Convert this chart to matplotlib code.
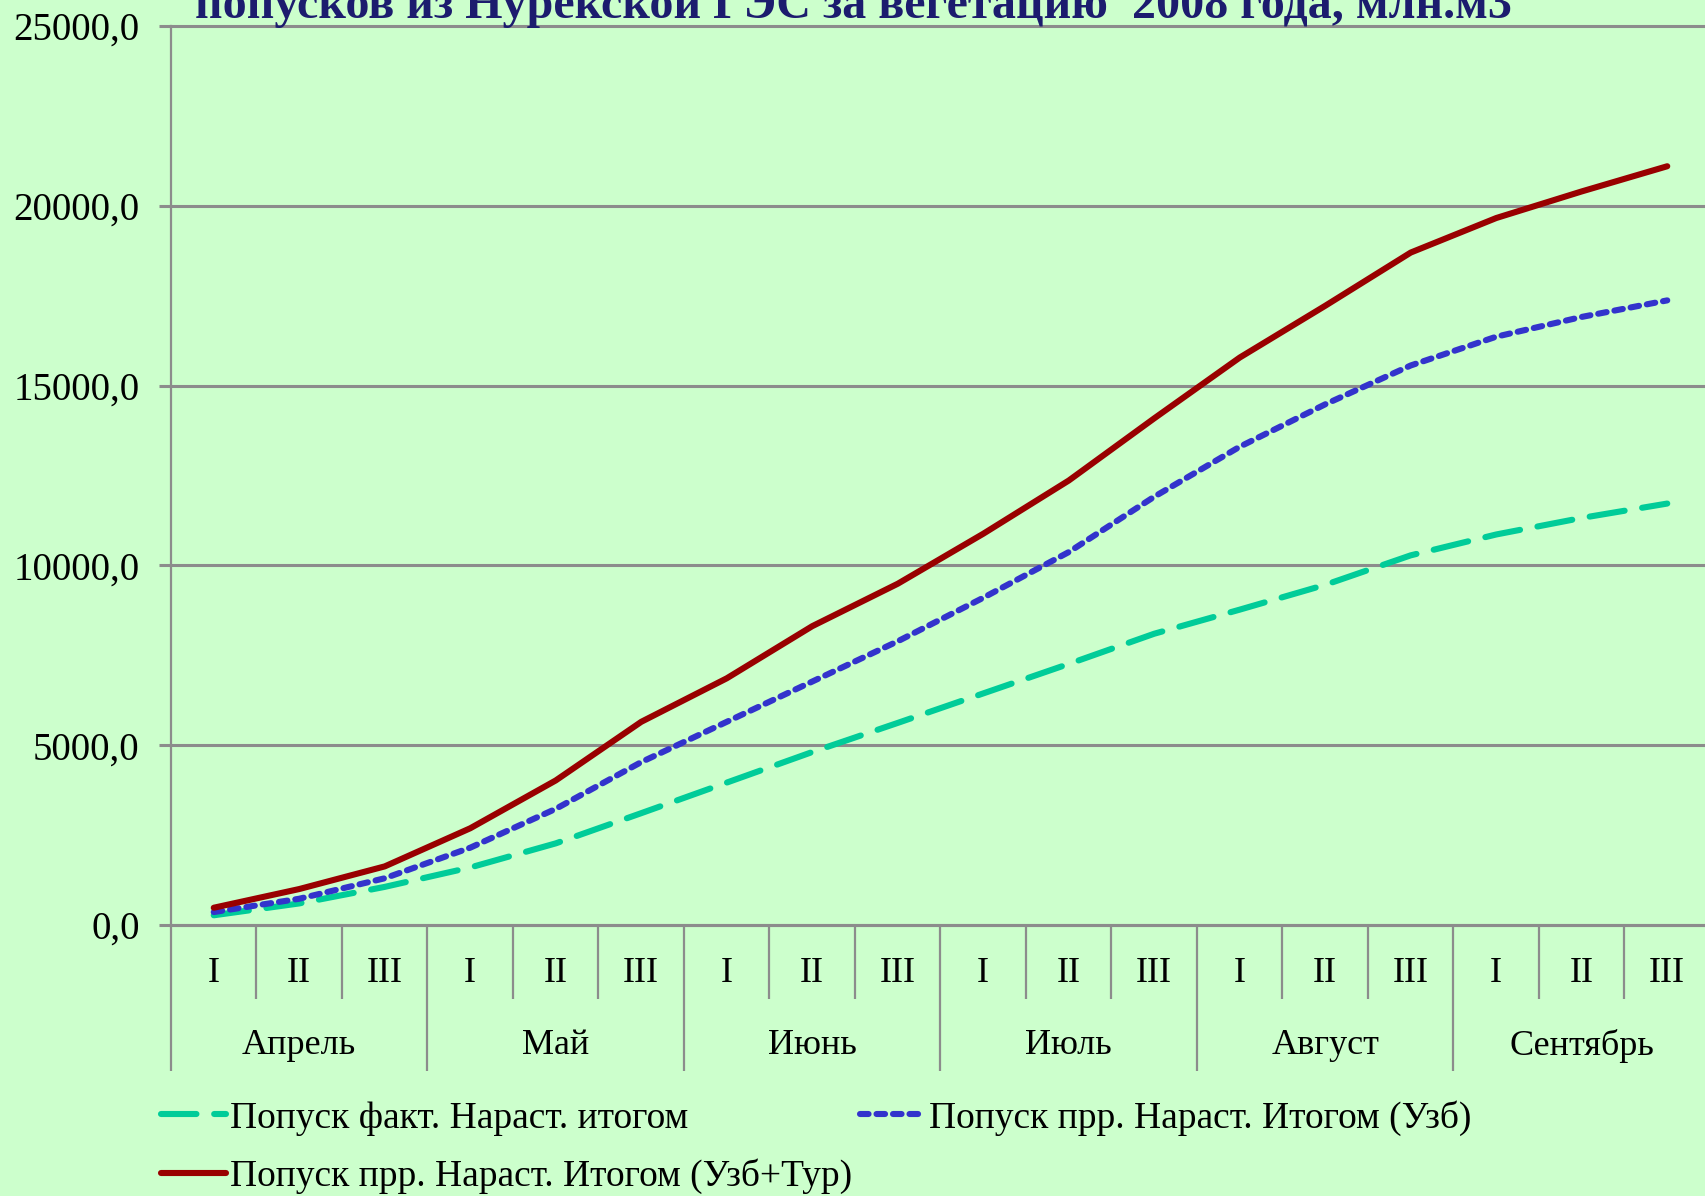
import matplotlib
matplotlib.use("Agg")
import matplotlib.pyplot as plt
from matplotlib.lines import Line2D
from matplotlib.ticker import FuncFormatter, FixedLocator

# ---------------- data ----------------
months = ["Апрель", "Май", "Июнь", "Июль", "Август", "Сентябрь"]
decades = ["I", "II", "III"]

fact_cum = [270, 600, 1060, 1600, 2270, 3110, 3960, 4810, 5620, 6440, 7260, 8100,
            8770, 9460, 10280, 10860, 11320, 11720]
plan_uzb = [360, 730, 1300, 2150, 3230, 4530, 5650, 6770, 7890, 9100, 10370, 11910,
            13300, 14480, 15560, 16360, 16910, 17370]
plan_uzb_tur = [480, 1000, 1630, 2690, 4020, 5650, 6860, 8310, 9490, 10880, 12360, 14090,
                15780, 17220, 18700, 19660, 20400, 21100]

series_labels = ["Попуск факт. Нараст. итогом",
                 "Попуск прр. Нараст. Итогом (Узб+Тур)",
                 "Попуск прр. Нараст. Итогом (Узб)"]
title_text = "попусков из Нурекской ГЭС за вегетацию  2008 года, млн.м3"
y_ticks = [0, 5000, 10000, 15000, 20000, 25000]

# ---------------- style ----------------
W, H = 1706, 1196
BG = "#CCFFCC"
GRID = "#8C8C8C"
SERIF = ["Liberation Serif", "DejaVu Serif"]
LW = 4.4
GREEN_LS = (0, (5.8, 2.9))
BLUE_LS = (0, (1.4, 1.3))

fig = plt.figure(figsize=(W / 100, H / 100), dpi=100)
fig.patch.set_facecolor(BG)

ax_left, ax_right, ax_top, ax_bot = 171, 1710, 26, 925
ax = fig.add_axes([ax_left / W, 1 - ax_bot / H, (ax_right - ax_left) / W, (ax_bot - ax_top) / H])
ax.set_facecolor(BG)

n = len(fact_cum)
xs = [i + 0.5 for i in range(n)]

ax.plot(xs, fact_cum, color="#00CC99", lw=LW, linestyle=GREEN_LS,
        dash_capstyle="round", solid_capstyle="round", zorder=3)
ax.plot(xs, plan_uzb, color="#3333CC", lw=LW, linestyle=BLUE_LS,
        dash_capstyle="round", zorder=4)
ax.plot(xs, plan_uzb_tur, color="#990000", lw=LW, solid_capstyle="round",
        solid_joinstyle="round", zorder=5)

ax.set_xlim(0, n)
ax.set_ylim(0, 25000)

# y axis
ax.yaxis.set_major_locator(FixedLocator(y_ticks))
ax.yaxis.set_major_formatter(FuncFormatter(lambda v, p: f"{v:.1f}".replace(".", ",")))
ax.tick_params(axis="y", direction="out", length=8.6, width=2.2, color=GRID, pad=14,
               labelsize=28)
for lab in ax.get_yticklabels():
    lab.set_family(SERIF)
ax.yaxis.grid(True, color=GRID, lw=2.2)
for gl in ax.get_ygridlines():
    gl.set_clip_on(False)
ax.set_axisbelow(True)

# x axis: category boundaries
ax.xaxis.set_major_locator(FixedLocator(list(range(0, n + 1, 3))))
ax.xaxis.set_minor_locator(FixedLocator([i for i in range(n + 1) if i % 3]))
ax.tick_params(axis="x", which="major", direction="out", length=105, width=1.6, color=GRID,
               labelbottom=False)
ax.tick_params(axis="x", which="minor", direction="out", length=53, width=1.6, color=GRID,
               labelbottom=False)

for s in ["top", "right"]:
    ax.spines[s].set_visible(False)
ax.spines["left"].set_color(GRID)
ax.spines["left"].set_linewidth(1.6)
ax.spines["bottom"].set_color(GRID)
ax.spines["bottom"].set_linewidth(2.2)

axh = ax_bot - ax_top
tr = ax.get_xaxis_transform()
for i in range(n):
    ax.text(i + 0.5, -(973 - ax_bot) / axh, decades[i % 3], transform=tr, ha="center",
            va="center", fontsize=26, family=SERIF)
for m, name in enumerate(months):
    ax.text(3 * m + 1.5, -(1046 - ax_bot) / axh, name, transform=tr, ha="center",
            va="center", fontsize=26, family=SERIF)

# legend
handles = [
    Line2D([], [], color="#00CC99", lw=LW, linestyle=GREEN_LS, dash_capstyle="round"),
    Line2D([], [], color="#990000", lw=LW, solid_capstyle="round"),
    Line2D([], [], color="#3333CC", lw=LW, linestyle=BLUE_LS, dash_capstyle="round"),
]
leg = fig.legend(handles, series_labels, ncol=2, loc="upper left",
                 bbox_to_anchor=(160 / W + 0.0005, 1 - 1100 / H),
                 frameon=False, prop={"family": SERIF, "size": 27},
                 handlelength=1.75, handletextpad=0.1, columnspacing=0.2,
                 labelspacing=0.62, borderpad=0, borderaxespad=0)

# title (clipped at the top edge as in the reference)
t = fig.text(0.5, 1 - 18 / H, title_text, ha="center", va="baseline", fontsize=34,
             fontweight="bold", family=SERIF, color="#1C1C6E")
fig.canvas.draw()
bb = t.get_window_extent()
t.set_fontsize(34 * 1318 / bb.width)

fig.savefig("out.png", dpi=100, facecolor=BG)
